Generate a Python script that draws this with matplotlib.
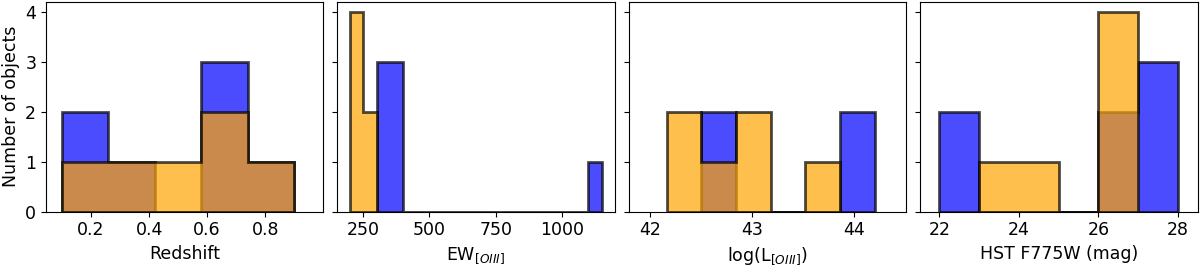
import matplotlib
matplotlib.use("Agg")
import matplotlib.pyplot as plt

# bin edges and counts
z_edges = [0.1, 0.26, 0.42, 0.58, 0.74, 0.9]
z_blue = [2, 1, 0, 3, 1]
z_orange = [1, 1, 1, 2, 1]

ew_blue_edges = [300, 400, 1100, 1150]
ew_blue = [3, 0, 1]
ew_orange_edges = [200, 250, 300]
ew_orange = [4, 2]

lo_blue_edges = [42.5, 42.84, 43.18, 43.52, 43.86, 44.2]
lo_blue = [2, 0, 0, 0, 2]
lo_orange_edges = [42.16, 42.5, 42.84, 43.18, 43.52, 43.86]
lo_orange = [2, 1, 2, 0, 1]

mag_blue_edges = [22, 23, 24, 25, 26, 27, 28]
mag_blue = [2, 0, 0, 0, 2, 3]
mag_orange_edges = [23, 24, 25, 26, 27]
mag_orange = [1, 1, 0, 4]

panels = [
    (z_edges, z_blue, z_edges, z_orange, "Redshift",
     [0.2, 0.4, 0.6, 0.8], (0.045, 1.0)),
    (ew_blue_edges, ew_blue, ew_orange_edges, ew_orange, r"EW$_{[OIII]}$",
     [250, 500, 750, 1000], (152, 1200)),
    (lo_blue_edges, lo_blue, lo_orange_edges, lo_orange, r"log(L$_{[OIII]}$)",
     [42, 43, 44], (41.79, 44.51)),
    (mag_blue_edges, mag_blue, mag_orange_edges, mag_orange, "HST F775W (mag)",
     [22, 24, 26, 28], (21.52, 28.49)),
]

fs = 12.5
fig, axes = plt.subplots(1, 4, figsize=(12, 2.66), dpi=100, sharey=True)
fig.subplots_adjust(left=0.0383, right=0.998, bottom=0.204, top=0.9936, wspace=0.0505)

for ax, (be, bc, oe, oc, label, xt, xl) in zip(axes, panels):
    ax.hist(be[:-1], bins=be, weights=bc, histtype="stepfilled",
            color="blue", edgecolor="black", alpha=0.7, linewidth=2)
    ax.hist(oe[:-1], bins=oe, weights=oc, histtype="stepfilled",
            color="orange", edgecolor="black", alpha=0.7, linewidth=2)
    ax.set_xticks(xt)
    ax.set_xlim(xl)
    ax.set_xlabel(label, fontsize=fs)
    ax.tick_params(labelsize=fs)

axes[0].set_ylim(0, 4.2)
axes[0].set_yticks([0, 1, 2, 3, 4])
axes[0].set_ylabel("Number of objects", fontsize=fs)

fig.savefig("out.png", dpi=100)
